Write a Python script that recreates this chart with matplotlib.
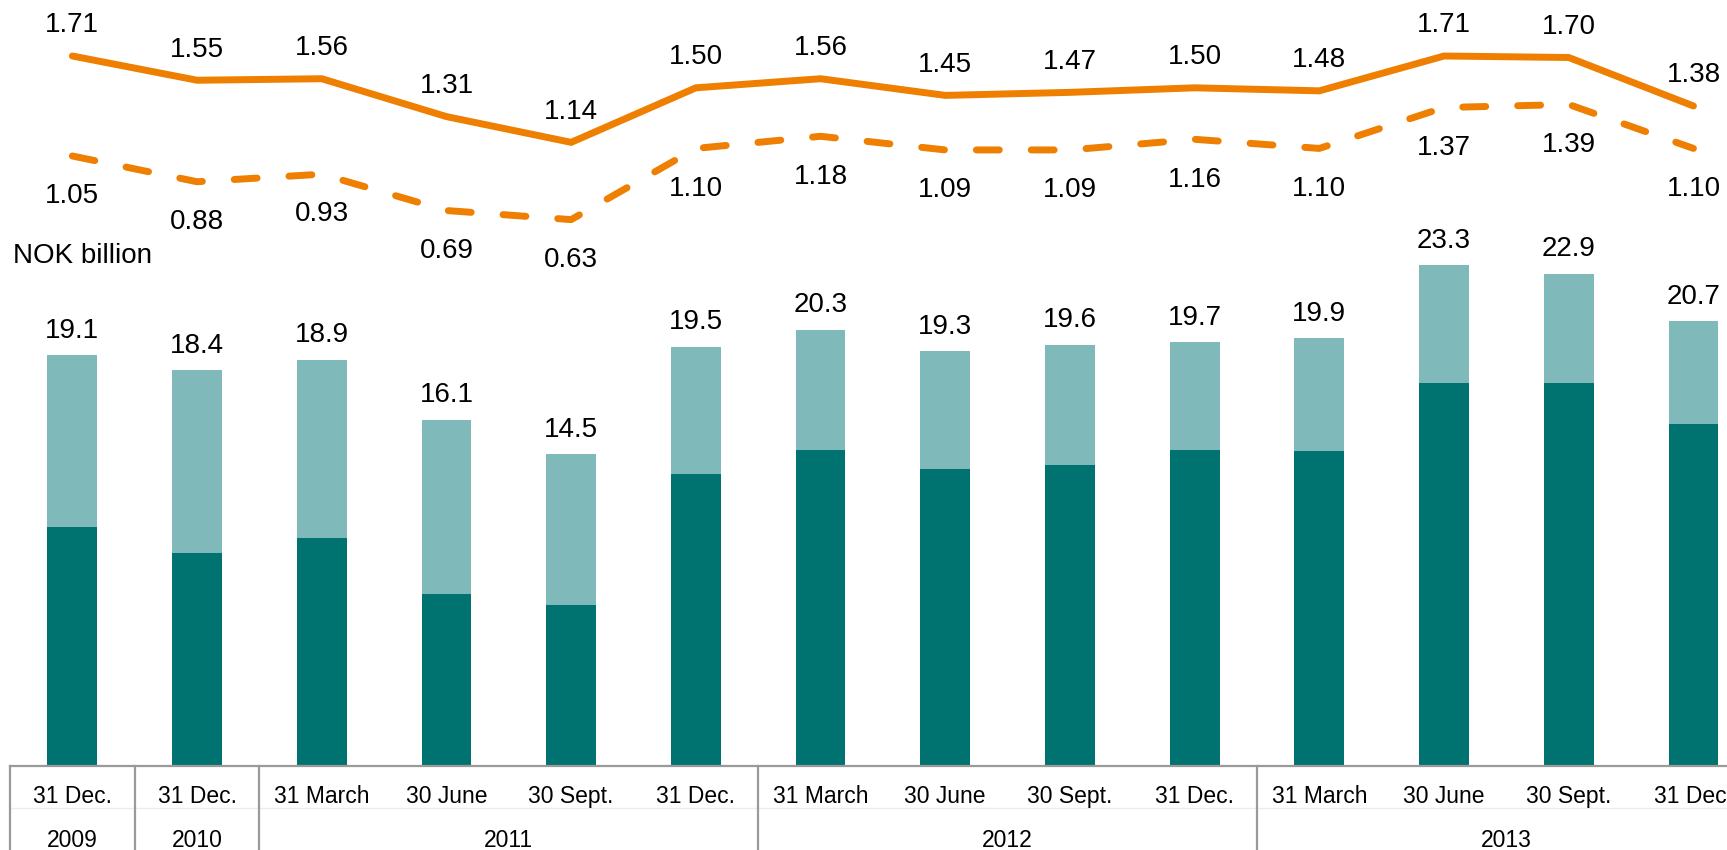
import matplotlib
matplotlib.use("Agg")
import matplotlib.pyplot as plt
import matplotlib.transforms as mtransforms
import numpy as np

plt.rcParams["font.family"] = ["Liberation Sans", "DejaVu Sans"]

# ── data ────────────────────────────────────────────────────────────────────
dates = ["31 Dec.", "31 Dec.", "31 March", "30 June", "30 Sept.", "31 Dec.",
         "31 March", "30 June", "30 Sept.", "31 Dec.",
         "31 March", "30 June", "30 Sept.", "31 Dec."]
years = ["2009", "2010", "2011", "2012", "2013"]
year_groups = [(0, 0), (1, 1), (2, 5), (6, 9), (10, 13)]

totals = [19.1, 18.4, 18.9, 16.1, 14.5, 19.5, 20.3, 19.3, 19.6, 19.7,
          19.9, 23.3, 22.9, 20.7]
dark = [11.1, 9.9, 10.6, 8.0, 7.5, 13.6, 14.7, 13.8, 14.0, 14.7,
        14.65, 17.8, 17.8, 15.9]
solid_line = [1.71, 1.55, 1.56, 1.31, 1.14, 1.50, 1.56, 1.45, 1.47, 1.50,
              1.48, 1.71, 1.70, 1.38]
dashed_line = [1.05, 0.88, 0.93, 0.69, 0.63, 1.10, 1.18, 1.09, 1.09, 1.16,
               1.10, 1.37, 1.39, 1.10]

DARK = "#007370"
LIGHT = "#80B9BA"
ORANGE = "#EE7F00"
GREY = "#9A9A9A"

W, H = 1727, 850
fig = plt.figure(figsize=(W / 100, H / 100), dpi=100)

# axes spans from the category axis (y=766px) up to the top edge,
# and runs off the right side of the picture like the original crop
left_px, step_px, base_px = 10, 124.7, 766
n = len(dates)
ax = fig.add_axes([left_px / W, (H - base_px) / H, n * step_px / W, base_px / H])
x = np.arange(n)

light = [t - d for t, d in zip(totals, dark)]
ax.bar(x, dark, width=0.40, color=DARK, zorder=2)
ax.bar(x, light, width=0.40, bottom=dark, color=LIGHT, zorder=2)
for xi, t in zip(x, totals):
    ax.annotate(f"{t:.1f}", (xi, t), xytext=(0, 12.5), textcoords="offset points",
                ha="center", va="baseline", fontsize=20)

ax.set_xlim(-0.5, n - 0.5)
ax.set_ylim(0, base_px / 21.5)
ax.set_xticks([])
ax.set_yticks([])
for s in ["top", "right", "left"]:
    ax.spines[s].set_visible(False)
ax.spines["bottom"].set_color(GREY)
ax.spines["bottom"].set_linewidth(1.6)

# lines on their own scale
ax2 = ax.twinx()
ax2.set_ylim(1.71 - 710 / 151.5, 1.71 + 56 / 151.5)
ax2.axis("off")
ax2.plot(x, solid_line, color=ORANGE, lw=5, solid_joinstyle="miter",
         solid_capstyle="round", zorder=3)
ax2.plot(x, dashed_line, color=ORANGE, lw=5, dashes=(3.3, 4.6),
         dash_capstyle="round", zorder=3)
for xi, v in zip(x, solid_line):
    ax2.annotate(f"{v:.2f}", (xi, v), xytext=(0, 17), textcoords="offset points",
                 ha="center", va="baseline", fontsize=20)
for xi, v in zip(x, dashed_line):
    ax2.annotate(f"{v:.2f}", (xi, v), xytext=(0, -34), textcoords="offset points",
                 ha="center", va="baseline", fontsize=20)

fig.text(13 / W, (H - 263) / H, "NOK billion", fontsize=20, va="baseline")

# category table under the axis
trans = mtransforms.blended_transform_factory(ax.transData, fig.transFigure)
axis_y = (H - base_px) / H
for xi, lab in zip(x, dates):
    ax.text(xi, (H - 803) / H, lab, transform=trans, ha="center",
            va="baseline", fontsize=16.5, clip_on=False)
for yr, (a, b) in zip(years, year_groups):
    ax.text((a + b) / 2, (H - 847) / H, yr, transform=trans, ha="center",
            va="baseline", fontsize=16.5, clip_on=False)
    ax.plot([a - 0.5, a - 0.5], [0, axis_y], transform=trans, color=GREY,
            lw=1.6, clip_on=False)
ax.plot([-0.5, n - 0.5], [(H - 808) / H] * 2, transform=trans, color="#ECECEC",
        lw=1, clip_on=False, zorder=0)

fig.savefig("out.png", dpi=100)
